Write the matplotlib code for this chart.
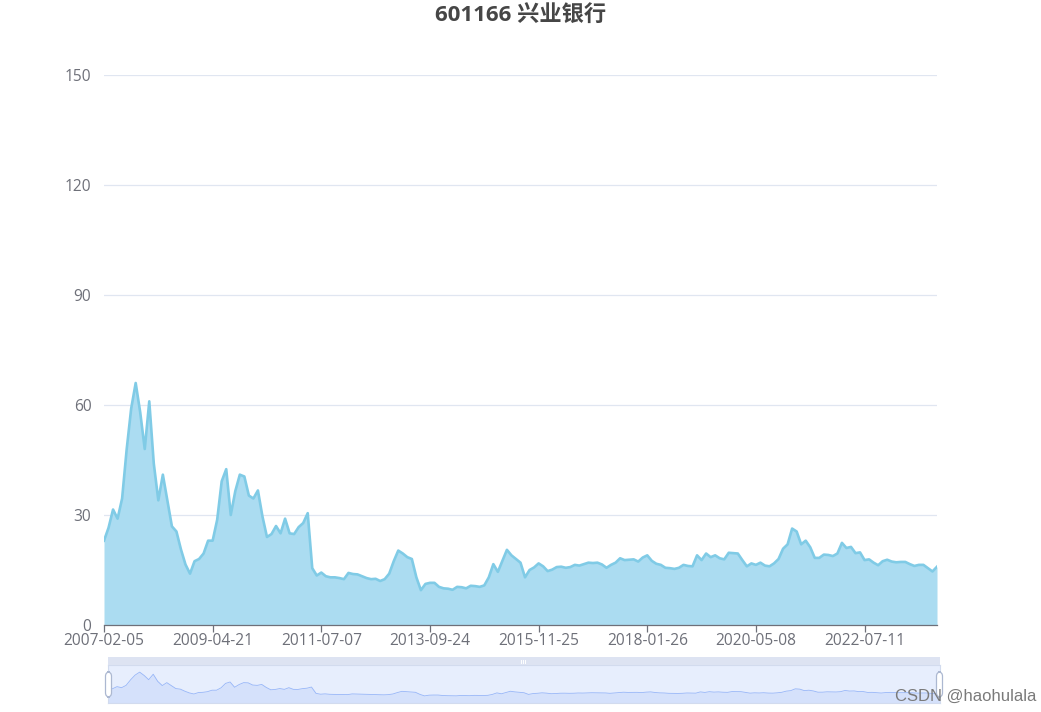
import matplotlib
matplotlib.use("Agg")
import matplotlib.pyplot as plt
from matplotlib.patches import FancyBboxPatch, Rectangle
from matplotlib.lines import Line2D
import numpy as np

title = "601166 兴业银行"
tick_labels = ["2007-02-05", "2009-04-21", "2011-07-07", "2013-09-24",
               "2015-11-25", "2018-01-26", "2020-05-08", "2022-07-11"]
tick_step = 24
y_ticks = [0, 30, 60, 90, 120, 150]
close = [
    23, 26.5, 31.5, 29, 34.5, 47.8, 59, 66, 58, 48,
    61, 44, 34, 41, 34, 26.9, 25.5, 20.6, 16.5, 14,
    17.4, 18, 19.5, 23, 23, 28.7, 39.2, 42.5, 30, 36.5,
    41, 40.5, 35.3, 34.5, 36.7, 29.6, 24, 24.8, 27, 25,
    29, 25, 24.8, 26.7, 27.8, 30.5, 15.5, 13.5, 14.3, 13.3,
    13, 13, 12.8, 12.5, 14.2, 13.9, 13.8, 13.3, 12.8, 12.5,
    12.6, 12, 12.5, 14, 17.4, 20.3, 19.5, 18.5, 18, 13,
    9.5, 11.2, 11.5, 11.5, 10.4, 10, 9.9, 9.6, 10.4, 10.3,
    10, 10.7, 10.6, 10.4, 10.8, 13, 16.6, 14.5, 17.5, 20.5,
    19, 18, 17, 13, 15, 15.7, 16.8, 16, 14.7, 15.1,
    15.8, 15.9, 15.6, 15.8, 16.4, 16.2, 16.6, 17, 16.9, 17,
    16.5, 15.6, 16.4, 17, 18.2, 17.7, 17.8, 17.9, 17.3, 18.4,
    19, 17.5, 16.7, 16.4, 15.6, 15.5, 15.3, 15.6, 16.4, 16.1,
    16, 19, 17.7, 19.5, 18.5, 19, 18.2, 17.9, 19.7, 19.6,
    19.5, 17.7, 16, 16.8, 16.4, 17, 16.2, 16, 16.8, 18,
    20.8, 22, 26.3, 25.5, 22, 23, 21.2, 18.3, 18.3, 19.2,
    19.1, 18.8, 19.5, 22.4, 21, 21.3, 19.6, 19.8, 17.7, 17.9,
    17, 16.3, 17.4, 17.8, 17.3, 17.1, 17.2, 17.2, 16.6, 16.1,
    16.4, 16.4, 15.5, 14.6, 15.9,
]

W, H = 1041, 712
plt.rcParams['font.family'] = ['Open Sans', 'Noto Sans CJK SC', 'DejaVu Sans']
fig = plt.figure(figsize=(W / 100, H / 100), dpi=100)


def box(l, t, r, b):
    return [l / W, 1 - b / H, (r - l) / W, (b - t) / H]


def fx(px):
    return px / W


def fy(py):
    return 1 - py / H


label_color = '#6E7079'
x = np.arange(len(close))

# main chart
ax = fig.add_axes(box(104, 75, 937, 625))
ax.fill_between(x, close, 0, color='#ABDCF1', lw=0, zorder=2)
ax.plot(x, close, color='#80CBE6', lw=1.9, zorder=3, solid_joinstyle='round')
ax.set_xlim(0, len(close) - 1)
ax.set_ylim(0, 150)
ax.set_yticks(y_ticks)
ax.grid(axis='y', color='#E0E6F1', lw=0.9)
ax.set_axisbelow(True)
for s in ['top', 'right', 'left']:
    ax.spines[s].set_visible(False)
ax.spines['bottom'].set_color(label_color)
ax.spines['bottom'].set_linewidth(0.9)
ax.spines['bottom'].set_zorder(4)
ax.tick_params(axis='y', length=0, pad=9, labelcolor=label_color, labelsize=11.2)
ax.set_xticks(np.arange(len(tick_labels)) * tick_step)
ax.set_xticklabels(tick_labels)
ax.tick_params(axis='x', length=5, width=0.9, color=label_color,
               labelcolor=label_color, labelsize=11.2, pad=1)

# title
fig.text(0.5, fy(15), title, ha='center', va='center', fontsize=16,
         fontweight='bold', color='#464646')

# data zoom slider
sl = fig.add_axes(box(108, 665, 940, 703))
lo, hi = min(close), max(close)
pad = (hi - lo) * 0.3
sl.set_xlim(0, len(close) - 1)
sl.set_ylim(lo - pad, hi + pad)
sl.set_facecolor('#E7EEFD')
sl.fill_between(x, close, lo - pad, color='#8FB0F7', alpha=0.2, lw=0)
sl.plot(x, close, color='#8FB0F7', lw=0.6, alpha=0.9)
sl.set_xticks([])
sl.set_yticks([])
for s in sl.spines.values():
    s.set_color('#D2DBEE')
    s.set_linewidth(0.8)

# move handle bar on top
fig.add_artist(Rectangle((fx(108), fy(665)), fx(940) - fx(108), fy(657) - fy(665),
                         transform=fig.transFigure, facecolor='#DDE3F2',
                         edgecolor='none'))
for dx in (-2, 0, 2):
    fig.add_artist(Line2D([fx(523 + dx)] * 2, [fy(659.5), fy(663)],
                          transform=fig.transFigure, color='white', lw=0.7))

# side handles
for cxp in (108.5, 939.5):
    fig.add_artist(FancyBboxPatch((fx(cxp - 3), fy(697)), fx(6), fy(672) - fy(697),
                                  boxstyle='round,pad=0,rounding_size=0.004',
                                  transform=fig.transFigure, facecolor='white',
                                  edgecolor='#ACB8D1', lw=0.9, mutation_aspect=1.5))

# watermark
fig.text(fx(1036), fy(696), "CSDN @haohulala", ha='right', va='center',
         fontsize=12, color='#7a7a7a', family=['Liberation Sans'])

fig.savefig('out.png', dpi=100)
